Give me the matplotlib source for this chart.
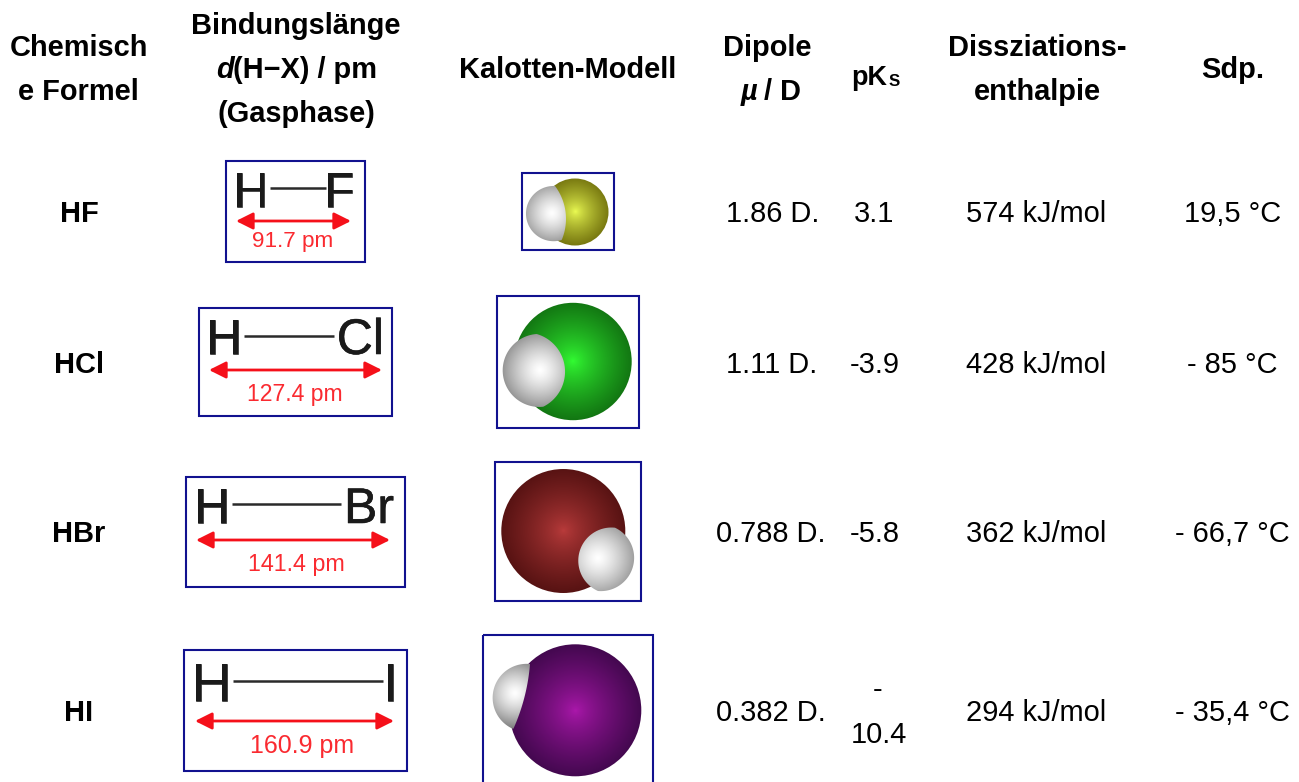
import numpy as np
import matplotlib
matplotlib.use("Agg")
import matplotlib.pyplot as plt
import matplotlib.patheffects as pe
from matplotlib.patches import Rectangle, Circle, Polygon, FancyArrowPatch
from matplotlib.colors import to_rgb

plt.rcParams['font.family'] = ['Liberation Sans', 'DejaVu Sans']

# ---- table content ----
formulas = ["HF", "HCl", "HBr", "HI"]
halogens = ["F", "Cl", "Br", "I"]
bond_labels = ["91.7 pm", "127.4 pm", "141.4 pm", "160.9 pm"]
dipoles = ["1.86 D.", "1.11 D.", "0.788 D.", "0.382 D."]
pks_values = ["3.1", "-3.9", "-5.8", "-\n10.4"]
enthalpies = ["574 kJ/mol", "428 kJ/mol", "362 kJ/mol", "294 kJ/mol"]
boiling = ["19,5 °C", "- 85 °C", "- 66,7 °C", "- 35,4 °C"]

# ---- layout (pixels) ----
W, H = 1299, 782
row_y = [212, 363, 532, 711]
dipole_x = [772.5, 772, 771, 771]
FS = 29 * 0.72
NAVY = "#11118f"
RED = "#fa2a30"
INK = "#1a1a1a"

struct_boxes = [(226, 161, 365, 262), (199, 308, 392, 416), (186, 477, 405, 587), (184, 650, 407, 771)]
h_pos = [(236, 207), (209, 354), (197, 523), (195, 701)]
x_right = [352, 382, 392, 396]
bond_seg = [(270, 326, 188), (244, 334, 336), (232, 341, 504), (233, 383, 681)]
arrow_seg = [(238, 349, 221), (211, 380, 370), (198, 388, 540), (197, 392, 721)]
label_pos = [(293, 240), (295, 392), (296, 562), (302, 744)]
struct_fs = [49, 50, 50, 54]
label_fs = [22.5, 23, 23.3, 25]

model_boxes = [(522, 173, 614, 250), (497, 296, 639, 428), (495, 462, 641, 601), (483, 635, 653, 800)]
atom_geom = [(575, 212, 33.5), (573, 361.5, 58.7), (563.3, 531, 62), (575.3, 710.3, 66)]
atom_colors = [("#eeff55", "#76760f"), ("#33ff33", "#127512"), ("#bb3c3c", "#561212"), ("#ad18ad", "#42084e")]
# hydrogen outline: outer arc and front arc, each through three points
h_outer = [((555, 186), (526, 213), (561.7, 240)),
           ((536.7, 334), (502.7, 370), (543.3, 406.7)),
           ((615, 527.7), (634, 555), (598, 591)),
           ((530, 664), (492.7, 696), (513.3, 729))]
h_front = [((555, 186), (565.7, 213.3), (561.7, 240)),
           ((536.7, 334), (565, 373.3), (543.3, 406.7)),
           ((615, 527.7), (578.3, 561.7), (598, 591)),
           ((530, 664), (525, 695), (513.3, 729))]
h_high = [(552, 213), (540, 370), (598, 558), (515, 693)]
h_reach = [36, 44, 46, 36]

fig = plt.figure(figsize=(W / 100, H / 100), dpi=100, facecolor="white")
ax = fig.add_axes([0, 0, 1, 1])
ax.set_xlim(0, W)
ax.set_ylim(H, 0)
ax.axis("off")


def label(x, y, s, bold=False, size=FS, color="black", ha="center", style="normal"):
    return ax.text(x, y + 2, s, ha=ha, va="center", fontsize=size, color=color,
                   fontweight="bold" if bold else "normal", style=style)


def gradient(cx, cy, reach, inner, outer, clip, power):
    n = 220
    xs = np.linspace(cx - reach, cx + reach, n)
    ys = np.linspace(cy - reach, cy + reach, n)
    gx, gy = np.meshgrid(xs, ys)
    t = np.clip(np.hypot(gx - cx, gy - cy) / reach, 0, 1)[..., None] ** power
    rgb = np.array(to_rgb(inner)) * (1 - t) + np.array(to_rgb(outer)) * t
    im = ax.imshow(rgb, extent=(cx - reach, cx + reach, cy + reach, cy - reach),
                   aspect="auto", interpolation="bilinear", zorder=3)
    ax.add_patch(clip)
    im.set_clip_path(clip)


def circle3(p):
    (ax_, ay), (bx, by), (cx, cy) = p
    A = np.array([[bx - ax_, by - ay], [cx - ax_, cy - ay]], float) * 2
    b = np.array([bx**2 + by**2 - ax_**2 - ay**2, cx**2 + cy**2 - ax_**2 - ay**2], float)
    c = np.linalg.solve(A, b)
    return c, np.hypot(*(c - np.array([ax_, ay])))


def ray_hit(p, d, c, r):
    f = p - c
    b = f @ d
    return -b + np.sqrt(b * b - (f @ f - r * r))


def lens(outer, front):
    c1, r1 = circle3(outer)
    c2, r2 = circle3(front)
    p = (np.array(outer[1], float) + np.array(front[1], float)) / 2
    pts = []
    for a in np.linspace(0, 2 * np.pi, 361)[:-1]:
        d = np.array([np.cos(a), np.sin(a)])
        pts.append(p + d * min(ray_hit(p, d, c1, r1), ray_hit(p, d, c2, r2)))
    return Polygon(pts, closed=True, fc="none", ec="none", zorder=4)


# ---- headers ----
label(78.5, 46, "Chemisch", True)
label(78, 90, "e Formel", True)
label(296, 24, "Bindungslänge", True)
label(216.5, 68, "d", True, ha="left", style="italic")
label(233, 68, "(H−X) / pm", True, ha="left")
label(296, 112, "(Gasphase)", True)
label(568, 68, "Kalotten-Modell", True)
label(767.5, 46, "Dipole", True)
label(741, 90, "µ", True, ha="left", style="italic")
label(764, 90, "/ D", True, ha="left")
label(851, 76, "pK", True, ha="left", size=FS * 0.93)
label(888.5, 79, "S", True, ha="left", size=FS * 0.58)
label(1037, 46, "Dissziations-", True)
label(1037, 90, "enthalpie", True)
label(1233, 68, "Sdp.", True)

# ---- rows ----
letter_fx = [pe.withStroke(linewidth=0.4, foreground=INK)]
for i, y in enumerate(row_y):
    label(79, y, formulas[i], True)
    label(dipole_x[i], y, dipoles[i])
    if "\n" in pks_values[i]:
        top, bottom = pks_values[i].split("\n")
        label(878, y - 23, top)
        label(879, y + 22, bottom)
    else:
        label(874.5, y, pks_values[i])
    label(1036.5, y, enthalpies[i])
    label(1232.5, y, boiling[i])

    # structure image
    x0, y0, x1, y1 = struct_boxes[i]
    ax.add_patch(Rectangle((x0, y0), x1 - x0, y1 - y0, fill=False, ec=NAVY, lw=1.5, zorder=2))
    fs = struct_fs[i] * 0.72
    ax.text(h_pos[i][0] - 3, h_pos[i][1], "H", fontsize=fs, color=INK, ha="left", va="baseline",
            path_effects=letter_fx)
    ax.text(x_right[i] + 2, h_pos[i][1], halogens[i], fontsize=fs, color=INK, ha="right", va="baseline",
            path_effects=letter_fx)
    xa, xb, yb = bond_seg[i]
    ax.plot([xa, xb], [yb, yb], color="#2a2a2a", lw=1.8, solid_capstyle="butt")
    xa, xb, yb = arrow_seg[i]
    ax.add_patch(FancyArrowPatch((xa - 2, yb), (xb + 2, yb), arrowstyle="<|-|>,head_length=6,head_width=3",
                                 mutation_scale=1.7, color="#f5101a", lw=2.0,
                                 shrinkA=0, shrinkB=0, zorder=3))
    label(label_pos[i][0], label_pos[i][1], bond_labels[i], size=label_fs[i] * 0.72, color=RED)

    # space-filling model
    x0, y0, x1, y1 = model_boxes[i]
    ax.add_patch(Rectangle((x0, y0), x1 - x0, y1 - y0, fill=False, ec=NAVY, lw=1.5, zorder=2))
    cx, cy, r = atom_geom[i]
    gradient(cx, cy, r * 1.02, atom_colors[i][0], atom_colors[i][1],
             Circle((cx, cy), r, fc="none", ec="none", zorder=3), 0.75)
    gradient(h_high[i][0], h_high[i][1], h_reach[i], "#ffffff", "#7d7d7d",
             lens(h_outer[i], h_front[i]), 1.3)

ax.set_xlim(0, W)
ax.set_ylim(H, 0)
fig.savefig("out.png", dpi=100, facecolor="white")
